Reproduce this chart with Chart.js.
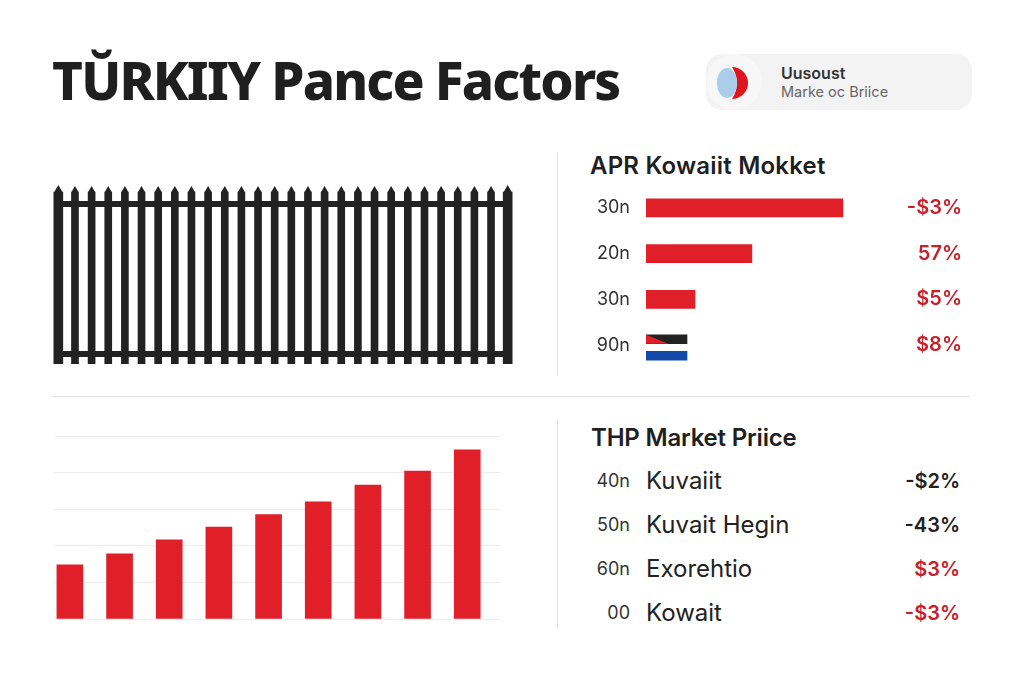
<!DOCTYPE html>
<html>
<head>
<meta charset="utf-8">
<script src="https://cdn.jsdelivr.net/npm/chart.js@4"></script>
<style>
  html, body { margin: 0; padding: 0; background: #fff; }
  body { width: 1024px; height: 683px; position: relative; overflow: hidden; font-family: Inter, sans-serif; color: #1f1f1f; }
  canvas { position: absolute; }
  .abs { position: absolute; white-space: nowrap; }
  #title { left: 52px; top: 45px; font-family: "Noto Sans", sans-serif; font-size: 53px; line-height: 70px; font-weight: 800; letter-spacing: -1.8px; }
  #pill { left: 706px; top: 54px; width: 266px; height: 56px; background: #f3f3f4; border-radius: 16px; }
  #knob { left: 706px; top: 54px; width: 56px; height: 56px; background: #f7f7f8; border-radius: 28px; }
  #icon { left: 716px; top: 65px; }
  #pillTop { left: 781px; top: 63px; font-size: 16px; line-height: 20px; font-weight: 600; color: #333; }
  #pillSub { left: 781px; top: 83px; font-size: 14.5px; line-height: 18px; color: #666; }
  .head { font-size: 24px; line-height: 28px; font-weight: 600; letter-spacing: -0.2px; }
  .rule { background: #e6e6e6; }
  .num { font-size: 18px; color: #333; line-height: 20px; text-align: right; width: 60px; }
  .name { font-size: 24px; color: #222; line-height: 26px; }
  .val { font-size: 20px; font-weight: 600; line-height: 26px; text-align: right; width: 80px; }
</style>
</head>
<body>
<div id="title" class="abs">TŬRKIIY Pance Factors</div>
<div id="pill" class="abs"></div>
<div id="knob" class="abs"></div>
<svg id="icon" class="abs" width="36" height="36" viewBox="0 0 36 36">
  <path d="M16 2 A16 16 0 0 1 16 34 Q26 18 16 2 Z" fill="#e0141e"></path>
  <ellipse cx="11" cy="18" rx="10" ry="15" fill="#a9cdea"></ellipse>
</svg>
<div id="pillTop" class="abs">Uusoust</div>
<div id="pillSub" class="abs">Marke oc Briice</div>

<div class="abs rule" style="left:557px;top:152px;width:1px;height:224px"></div>
<div class="abs rule" style="left:52px;top:396px;width:918px;height:1px"></div>
<div class="abs rule" style="left:557px;top:418px;width:1px;height:212px"></div>

<div class="abs head" style="left:590px;top:152px;letter-spacing:0.2px">APR Kowaiit Mokket</div>
<div class="abs head" style="left:591px;top:424px">THP Market Priice</div>

<canvas id="fence" width="466" height="190" style="left:50px;top:174px"></canvas>
<canvas id="market" width="372" height="183" style="left:590px;top:185px"></canvas>
<canvas id="flag" width="244" height="33" style="left:646px;top:331px"></canvas>
<canvas id="trend" width="446" height="195" style="left:54px;top:430px"></canvas>

<script>
// fence panel
var fenceSlots = ['1','2','3','4','5','6','7','8','9','10','11','12','13','14','15','16','17','18','19','20','21','22','23','24','25','26','27','28'];
var fencePosts = [172,null,null,null,null,null,null,null,null,null,null,null,null,null,null,null,null,null,null,null,null,null,null,null,null,null,null,172];
var fencePickets = [null,172,172,172,172,172,172,172,172,172,172,172,172,172,172,172,172,172,172,172,172,172,172,172,172,172,172,null];
var fenceTips = [174,174,174,174,174,174,174,174,174,174,174,174,174,174,174,174,174,174,174,174,174,174,174,174,174,174,174,174];
var fenceTopRail = [160,160,160,160,160,160,160,160,160,160,160,160,160,160,160,160,160,160,160,160,160,160,160,160,160,160,160,160];
var fenceLowRail = [10,10,10,10,10,10,10,10,10,10,10,10,10,10,10,10,10,10,10,10,10,10,10,10,10,10,10,10];

// market bars
var marketLabels = ['30n', '20n', '30n', '90n'];
var marketValues = [80.7, 43.4, 20.1, null];
var marketChange = ['-$3%', '57%', '$5%', '$8%'];
var flagLabels = ['dark', 'blue'];
var flagValues = [16.8, 16.8];

// price table
var priceCodes = ['40n', '50n', '60n', '00'];
var priceNames = ['Kuvaiit', 'Kuvait Hegin', 'Exorehtio', 'Kowait'];
var priceChange = ['-$2%', '-43%', '$3%', '-$3%'];
var priceColors = ['#222222', '#222222', '#c8202a', '#c8202a'];

// rising bars
var trendLabels = ['1', '2', '3', '4', '5', '6', '7', '8', '9'];
var trendValues = [14.8, 17.8, 21.6, 25.1, 28.5, 32, 36.6, 40.4, 46.2];
var trendTicks = [0, 10, 20, 30, 40, 50];

var INK = '#222222';
var RED = '#e01f28';

Chart.defaults.animation = false;
Chart.defaults.responsive = false;
Chart.defaults.font.family = 'Inter, sans-serif';
Chart.defaults.plugins.legend.display = false;
Chart.defaults.plugins.tooltip.enabled = false;

new Chart(document.getElementById('fence'), {
    type: 'bar',
    data: {
        labels: fenceSlots,
        datasets: [
            { data: fencePosts, backgroundColor: INK, barThickness: 9, grouped: false },
            { data: fencePickets, backgroundColor: INK, barThickness: 7, grouped: false },
            { type: 'line', data: fenceTopRail, borderColor: INK, borderWidth: 6, pointRadius: 0 },
            { type: 'line', data: fenceLowRail, borderColor: INK, borderWidth: 6, pointRadius: 0 },
            {
                type: 'line', data: fenceTips, showLine: false, pointStyle: 'triangle',
                pointBackgroundColor: INK, pointBorderWidth: 0,
                pointRadius: function(ctx) { return (ctx.dataIndex == 0 || ctx.dataIndex == 27) ? 5 : 4; }
            }
        ]
    },
    options: {
        layout: { padding: 0, autoPadding: false },
        scales: {
            x: { display: false },
            y: { display: false, min: 0, max: 190 }
        }
    }
});

new Chart(document.getElementById('market'), {
    type: 'bar',
    data: {
        labels: marketLabels,
        datasets: [{ data: marketValues, backgroundColor: RED, barThickness: 18 }]
    },
    options: {
        indexAxis: 'y',
        layout: { autoPadding: false },
        scales: {
            x: { display: false, min: 0, max: 100 },
            y: {
                type: 'category', labels: marketLabels, offset: true,
                grid: { display: false, tickLength: 16 }, border: { display: false },
                ticks: { color: '#333', font: { size: 18 }, padding: 0 },
                afterFit: function(scale) { scale.width = 56; scale.paddingTop = 0; scale.paddingBottom = 0; }
            },
            change: {
                type: 'category', axis: 'y', position: 'right', labels: marketChange, offset: true,
                grid: { display: false, tickLength: 20 }, border: { display: false },
                ticks: { color: '#c8202a', font: { size: 20, weight: '600' }, crossAlign: 'far', padding: 0 },
                afterFit: function(scale) { scale.width = 72; scale.paddingTop = 0; scale.paddingBottom = 0; }
            }
        }
    }
});

new Chart(document.getElementById('flag'), {
    type: 'bar',
    data: {
        labels: flagLabels,
        datasets: [{
            data: flagValues,
            backgroundColor: [INK, '#1349a8'],
            barThickness: 9
        }]
    },
    options: {
        indexAxis: 'y',
        scales: {
            x: { display: false, min: 0, max: 100 },
            y: { display: false }
        }
    },
    plugins: [{
        id: 'flagWedge',
        afterDatasetsDraw: function(chart) {
            var bar = chart.getDatasetMeta(0).data[0];
            var top = bar.y - bar.height / 2;
            var bottom = bar.y + bar.height / 2;
            var c = chart.ctx;
            c.save();
            c.fillStyle = RED;
            c.beginPath();
            c.moveTo(bar.base, top);
            c.lineTo(bar.base + (bar.x - bar.base) * 0.55, bottom);
            c.lineTo(bar.base, bottom);
            c.closePath();
            c.fill();
            c.restore();
        }
    }]
});

new Chart(document.getElementById('trend'), {
    type: 'bar',
    data: {
        labels: trendLabels,
        datasets: [{
            data: trendValues.map(function(v, i) { return { x: i + 1, y: v }; }),
            backgroundColor: RED,
            barThickness: 26
        }]
    },
    options: {
        layout: { padding: { top: 6, bottom: 6 } },
        scales: {
            x: { type: 'linear', display: false, offset: false, min: 0.68, max: 9.66 },
            y: {
                min: 0, max: 50,
                afterBuildTicks: function(scale) {
                    scale.ticks = trendTicks.map(function(v) { return { value: v }; });
                },
                grid: { color: '#ededed', drawTicks: false },
                border: { display: false },
                ticks: { display: false }
            }
        }
    }
});

// price table rows, real text
var rowTops = [481, 525, 569, 613];
priceCodes.forEach(function(code, i) {
    var y = rowTops[i];
    var html = '<div class="abs num" style="left:570px;top:' + (y - 10) + 'px">' + code + '</div>' +
        '<div class="abs name" style="left:646px;top:' + (y - 13) + 'px">' + priceNames[i] + '</div>' +
        '<div class="abs val" style="left:880px;top:' + (y - 13) + 'px;color:' + priceColors[i] + '">' + priceChange[i] + '</div>';
    document.body.insertAdjacentHTML('beforeend', html);
});
</script>
</body>
</html>
